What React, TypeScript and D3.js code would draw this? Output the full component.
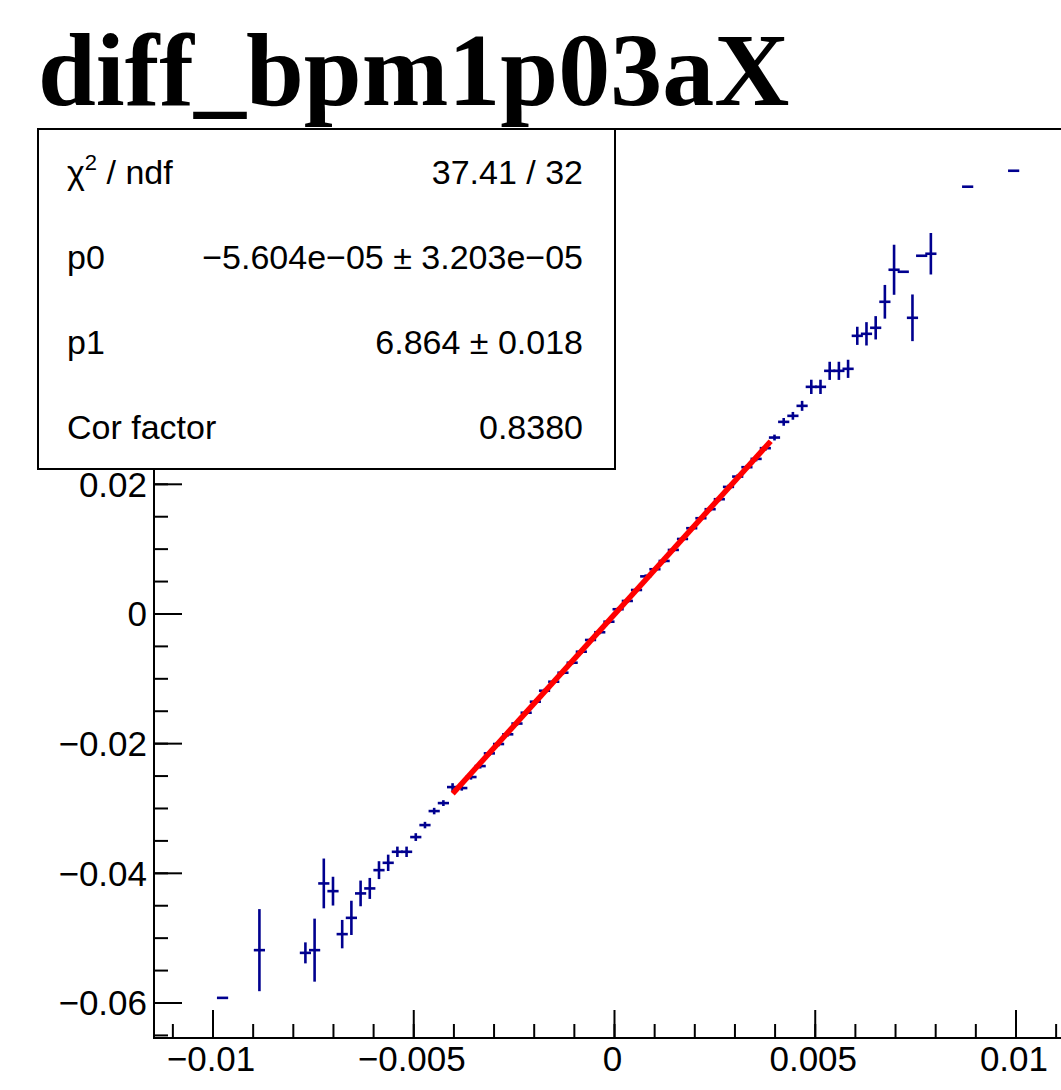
import React from "react";
import * as d3 from "d3";

// ---- data (TProfile bins) ----
const binCenters = [
  -0.0097627, -0.0088444, -0.0076989, -0.0074698, -0.0072407, -0.0070116, -0.0067825,
  -0.0065534, -0.0063243, -0.0060952, -0.0058661, -0.005637, -0.0054079, -0.0051788,
  -0.0049497, -0.0047206, -0.0044915, -0.0042624, -0.0040333, -0.0038042, -0.0035751,
  -0.003346, -0.0031169, -0.0028878, -0.0026587, -0.0024296, -0.0022005, -0.0019714,
  -0.0017423, -0.0015132, -0.0012841, -0.001055, -0.0008259, -0.0005968, -0.0003677,
  -0.0001386, 0.0000905, 0.0003196, 0.0005487, 0.0007778, 0.0010069, 0.001236,
  0.0014651, 0.0016942, 0.0019233, 0.0021524, 0.0023815, 0.0026106, 0.0028397,
  0.0030688, 0.0032979, 0.003527, 0.0037561, 0.0039852, 0.0042143, 0.0044434,
  0.0046725, 0.0049016, 0.0051307, 0.0053598, 0.0055889, 0.005818, 0.0060471,
  0.0062762, 0.0065053, 0.0067344, 0.0069635, 0.0071926, 0.0074217, 0.0076508,
  0.0078799, 0.0087963, 0.0099418,
];
const binMeans = [
  -0.05921, -0.05185, -0.05227, -0.05185, -0.04156, -0.04275, -0.04938,
  -0.04687, -0.0431, -0.04233, -0.03951, -0.03838, -0.03668, -0.03668,
  -0.03441, -0.03256, -0.0304, -0.02917, -0.0267, -0.02685, -0.02515,
  -0.02346, -0.0215, -0.02006, -0.01856, -0.0169, -0.01523, -0.01353,
  -0.01184, -0.01045, -0.00906, -0.00752, -0.00582, -0.00401, -0.00282,
  -0.00119, 0.00073, 0.00201, 0.0037, 0.0058, 0.0069, 0.00818,
  0.00988, 0.01157, 0.01323, 0.01477, 0.01616, 0.0177, 0.0196,
  0.02119, 0.02264, 0.02392, 0.02557, 0.02721, 0.02963, 0.03056,
  0.0321, 0.03503, 0.03503, 0.0375, 0.0375, 0.03781, 0.0429,
  0.04321, 0.04414, 0.04815, 0.05309, 0.05278, 0.04568, 0.05525,
  0.05556, 0.0659, 0.06836,
];
const binErrors = [
  0, 0.00633, 0.00162, 0.00486, 0.00384, 0.00222, 0.00219,
  0.00264, 0.00198, 0.00162, 0.00138, 0.00126, 0.0008, 0.0008,
  0.0006, 0.0005, 0.0005, 0.00045, 0.0006, 0.0004, 0.0004,
  0.00038, 0.00036, 0.00035, 0.00034, 0.00033, 0.00032, 0.00032,
  0.00031, 0.0003, 0.0003, 0.0003, 0.0003, 0.0003, 0.0003,
  0.0003, 0.0003, 0.0003, 0.0003, 0.0003, 0.0003, 0.0003,
  0.0003, 0.0003, 0.0003, 0.00031, 0.00032, 0.00033, 0.00034,
  0.00035, 0.00036, 0.00038, 0.0004, 0.00045, 0.0006, 0.0006,
  0.00077, 0.0011, 0.0011, 0.0014, 0.0014, 0.0014, 0.0014,
  0.0018, 0.0018, 0.0026, 0.00386, 0, 0.0036, 0,
  0.0032, 0, 0,
];
const binHalfWidth = 0.0001146;

// fit result
const fitP0 = -5.604e-5;
const fitP1 = 6.864;
const fitRange = [-0.00403, 0.00389];

// axes
const xDomain = [-0.01147, 0.01147];
const yDomain = [-0.0654, 0.0748];
const xMajorTicks = [-0.01, -0.005, 0, 0.005, 0.01];
const xTickLabels = ["\u22120.01", "\u22120.005", "0", "0.005", "0.01"];
const yMajorTicks = [-0.06, -0.04, -0.02, 0, 0.02];
const yTickLabels = ["\u22120.06", "\u22120.04", "\u22120.02", "0", "0.02"];

const title = "diff_bpm1p03aX";
const statsLabels = ["χ2 / ndf", "p0", "p1", "Cor factor"];
const statsValues = ["37.41 / 32", "\u22125.604e\u221205 \u00b1 3.203e\u221205", "6.864 \u00b1 0.018", "0.8380"];

export default function App() {
  const W = 1061;
  const H = 1090;
  const fL = 154, fR = 1075, fT = 129, fB = 1038;
  const x = d3.scaleLinear().domain(xDomain).range([fL, fR]);
  const y = d3.scaleLinear().domain(yDomain).range([fB, fT]);
  const sans = "'Liberation Sans', Arial, Helvetica, sans-serif";
  const blue = "#00008f";

  const xMinor = d3.range(-0.011, 0.01149, 0.001);
  const yMinor = d3.range(-0.065, 0.0749, 0.005);

  const fitLine = d3
    .line<number>()
    .x((d) => x(d))
    .y((d) => y(fitP0 + fitP1 * d));

  const bx0 = 38, bx1 = 615, by0 = 129, by1 = 469;
  const rowH = (by1 - by0) / 4;

  return (
    <svg
      width={W}
      height={H}
      style={{ position: "absolute", left: 0, top: 0, background: "#fff" }}
    >
      <rect x={0} y={0} width={W} height={H} fill="#fff" />
      {/* frame */}
      <rect x={fL} y={fT} width={fR - fL} height={fB - fT} fill="none" stroke="#000" strokeWidth={2} />
      {/* x ticks */}
      {xMinor.map((t, i) => (
        <line key={"xm" + i} x1={x(t)} x2={x(t)} y1={fB} y2={fB - 14} stroke="#000" strokeWidth={2} />
      ))}
      {xMajorTicks.map((t, i) => (
        <g key={"xM" + i}>
          <line x1={x(t)} x2={x(t)} y1={fB} y2={fB - 28} stroke="#000" strokeWidth={2} />
          <text x={x(t) - 2} y={1071} textAnchor="middle" fontFamily={sans} fontSize={35} fill="#000">
            {xTickLabels[i]}
          </text>
        </g>
      ))}
      {/* y ticks */}
      {yMinor.map((t, i) => (
        <line key={"ym" + i} x1={fL} x2={fL + 14} y1={y(t)} y2={y(t)} stroke="#000" strokeWidth={2} />
      ))}
      {yMajorTicks.map((t, i) => (
        <g key={"yM" + i}>
          <line x1={fL} x2={fL + 28} y1={y(t)} y2={y(t)} stroke="#000" strokeWidth={2} />
          <text x={147} y={y(t) + 12.5} textAnchor="end" fontFamily={sans} fontSize={35} fill="#000">
            {yTickLabels[i]}
          </text>
        </g>
      ))}
      {/* profile points */}
      {binCenters.map((c, i) => (
        <g key={"p" + i} stroke={blue} strokeWidth={2.6}>
          <line x1={x(c - binHalfWidth) - 1} x2={x(c + binHalfWidth) + 1} y1={y(binMeans[i])} y2={y(binMeans[i])} />
          {binErrors[i] > 0 && (
            <line
              x1={x(c)}
              x2={x(c)}
              y1={y(binMeans[i] - binErrors[i])}
              y2={y(binMeans[i] + binErrors[i])}
            />
          )}
        </g>
      ))}
      {/* fit */}
      <path d={fitLine(fitRange) || ""} stroke="#ff0000" strokeWidth={5.5} fill="none" />
      {/* stats box */}
      <rect x={bx0} y={by0} width={bx1 - bx0} height={by1 - by0} fill="#fff" stroke="#000" strokeWidth={2} />
      {statsLabels.map((l, i) => (
        <g key={"s" + i}>
          <text x={67} y={by0 + rowH * (i + 0.5) + 12.5} fontFamily={sans} fontSize={34} fill="#000">
            {i === 0 ? (
              <>
                <tspan>χ</tspan>
                <tspan fontSize={22} dy={-14}>2</tspan>
                <tspan dy={14}> / ndf</tspan>
              </>
            ) : (
              l
            )}
          </text>
          <text
            x={583}
            y={by0 + rowH * (i + 0.5) + 12.5}
            textAnchor="end"
            fontFamily={sans}
            fontSize={34}
            fill="#000"
          >
            {statsValues[i]}
          </text>
        </g>
      ))}
      {/* title */}
      <text x={38} y={105} fontFamily="'Liberation Serif', 'Times New Roman', serif" fontWeight="bold" fontSize={104} fill="#000">
        {title}
      </text>
    </svg>
  );
}
